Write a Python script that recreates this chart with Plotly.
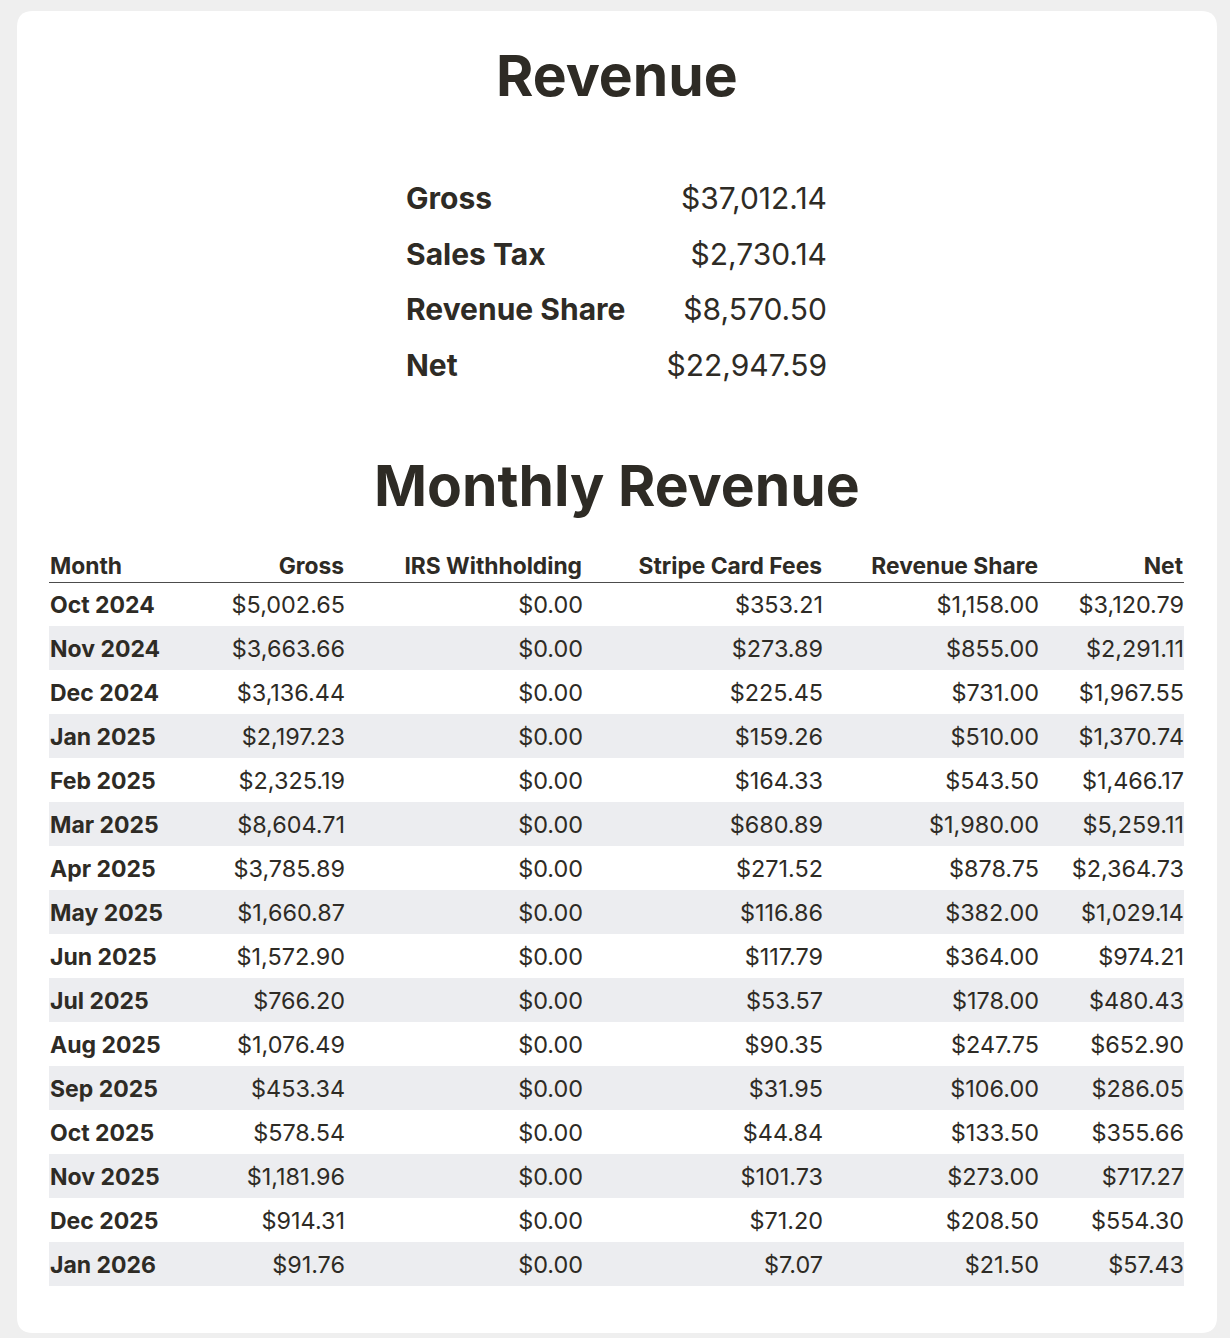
import plotly.graph_objects as go

# ---------------- data ----------------
summary_labels = ["Gross", "Sales Tax", "Revenue Share", "Net"]
summary_values = [37012.14, 2730.14, 8570.50, 22947.59]

columns = ["Month", "Gross", "IRS Withholding", "Stripe Card Fees", "Revenue Share", "Net"]
months = ["Oct 2024", "Nov 2024", "Dec 2024", "Jan 2025", "Feb 2025", "Mar 2025",
          "Apr 2025", "May 2025", "Jun 2025", "Jul 2025", "Aug 2025", "Sep 2025",
          "Oct 2025", "Nov 2025", "Dec 2025", "Jan 2026"]
gross = [5002.65, 3663.66, 3136.44, 2197.23, 2325.19, 8604.71, 3785.89, 1660.87,
         1572.90, 766.20, 1076.49, 453.34, 578.54, 1181.96, 914.31, 91.76]
irs_withholding = [0.00, 0.00, 0.00, 0.00, 0.00, 0.00, 0.00, 0.00,
                   0.00, 0.00, 0.00, 0.00, 0.00, 0.00, 0.00, 0.00]
stripe_fees = [353.21, 273.89, 225.45, 159.26, 164.33, 680.89, 271.52, 116.86,
               117.79, 53.57, 90.35, 31.95, 44.84, 101.73, 71.20, 7.07]
revenue_share = [1158.00, 855.00, 731.00, 510.00, 543.50, 1980.00, 878.75, 382.00,
                 364.00, 178.00, 247.75, 106.00, 133.50, 273.00, 208.50, 21.50]
net = [3120.79, 2291.11, 1967.55, 1370.74, 1466.17, 5259.11, 2364.73, 1029.14,
       974.21, 480.43, 652.90, 286.05, 355.66, 717.27, 554.30, 57.43]

# ---------------- style / layout ----------------
W, H = 1230, 1338
BG = "#efefef"
CARD = "#ffffff"
INK = "#2e2b25"
STRIPE = "#ecedf0"
FONT = "Inter"

def money(v):
    return "${:,.2f}".format(v)

def px_x(p):
    return p / W

def px_y(p):
    return 1 - p / H

fig = go.Figure()

# table geometry (pixels, layout only)
TABLE_LEFT, TABLE_RIGHT = 49, 1184
MONTH_X = 50
COL_RIGHT = [345, 583, 823, 1039, 1184]
BODY_TOP, ROW_H = 582, 44
TEXT_SHIFT = 3
n_rows = len(months)
body_bottom = BODY_TOP + ROW_H * n_rows
rows_idx = list(range(n_rows))

# alternating row shading (axis y)
shaded = [i for i in rows_idx if i % 2 == 1]
fig.add_trace(go.Bar(
    orientation="h", y=shaded, x=[TABLE_RIGHT - TABLE_LEFT] * len(shaded),
    base=TABLE_LEFT, width=1, marker=dict(color=STRIPE, line=dict(width=0)),
    hoverinfo="skip", showlegend=False, xaxis="x", yaxis="y"))

# body text (axis y4, same rows, nudged for optical centring)
fig.add_trace(go.Scatter(
    x=[MONTH_X] * n_rows, y=rows_idx, text=months, mode="text",
    textposition="middle right",
    textfont=dict(family=FONT, size=23, color=INK, weight=700),
    hoverinfo="skip", showlegend=False, cliponaxis=False, xaxis="x", yaxis="y4"))

for series, xr in zip([gross, irs_withholding, stripe_fees, revenue_share, net], COL_RIGHT):
    fig.add_trace(go.Scatter(
        x=[xr] * n_rows, y=rows_idx, text=[money(v) for v in series], mode="text",
        textposition="middle left",
        textfont=dict(family=FONT, size=23.4, color=INK, weight=400),
        hoverinfo="skip", showlegend=False, cliponaxis=False, xaxis="x", yaxis="y4"))

# header (axis y3, single row)
HEADER_TOP, HEADER_BOTTOM = 551, 585
fig.add_trace(go.Scatter(
    x=[MONTH_X], y=[0], text=[columns[0]], mode="text",
    textposition="middle right",
    textfont=dict(family=FONT, size=22.8, color=INK, weight=700),
    hoverinfo="skip", showlegend=False, cliponaxis=False, xaxis="x", yaxis="y3"))
fig.add_trace(go.Scatter(
    x=[c - 1 for c in COL_RIGHT], y=[0] * len(COL_RIGHT), text=columns[1:],
    mode="text", textposition="middle left",
    textfont=dict(family=FONT, size=22.8, color=INK, weight=700),
    hoverinfo="skip", showlegend=False, cliponaxis=False, xaxis="x", yaxis="y3"))

# summary block (axis y2)
SUM_LABEL_X, SUM_VALUE_X = 406, 827
SUM_TOP, SUM_ROW = 174, 55.5
ns = len(summary_labels)
fig.add_trace(go.Scatter(
    x=[SUM_LABEL_X] * ns, y=list(range(ns)), text=summary_labels, mode="text",
    textposition="middle right",
    textfont=dict(family=FONT, size=30, color=INK, weight=700),
    hoverinfo="skip", showlegend=False, cliponaxis=False, xaxis="x", yaxis="y2"))
fig.add_trace(go.Scatter(
    x=[SUM_VALUE_X] * ns, y=list(range(ns)), text=[money(v) for v in summary_values],
    mode="text", textposition="middle left",
    textfont=dict(family=FONT, size=30, color=INK, weight=400),
    hoverinfo="skip", showlegend=False, cliponaxis=False, xaxis="x", yaxis="y2"))

hidden = dict(visible=False, showgrid=False, zeroline=False, fixedrange=True)

# card with rounded corners
x0, y0, x1, y1, r = 17, 11, 1217, 1333, 16
card_path = (
    f"M {px_x(x0 + r)},{px_y(y0)} L {px_x(x1 - r)},{px_y(y0)} "
    f"Q {px_x(x1)},{px_y(y0)} {px_x(x1)},{px_y(y0 + r)} "
    f"L {px_x(x1)},{px_y(y1 - r)} Q {px_x(x1)},{px_y(y1)} {px_x(x1 - r)},{px_y(y1)} "
    f"L {px_x(x0 + r)},{px_y(y1)} Q {px_x(x0)},{px_y(y1)} {px_x(x0)},{px_y(y1 - r)} "
    f"L {px_x(x0)},{px_y(y0 + r)} Q {px_x(x0)},{px_y(y0)} {px_x(x0 + r)},{px_y(y0)} Z"
)

fig.update_layout(
    width=W, height=H, autosize=False,
    margin=dict(l=0, r=0, t=0, b=0, pad=0),
    paper_bgcolor=BG, plot_bgcolor="rgba(0,0,0,0)",
    showlegend=False, hovermode=False,
    xaxis=dict(range=[0, W], domain=[0, 1], **hidden),
    yaxis=dict(range=[n_rows - 0.5, -0.5], domain=[px_y(body_bottom), px_y(BODY_TOP)],
               anchor="x", **hidden),
    yaxis4=dict(range=[n_rows - 0.5, -0.5],
                domain=[px_y(body_bottom + TEXT_SHIFT), px_y(BODY_TOP + TEXT_SHIFT)],
                anchor="x", **hidden),
    yaxis3=dict(range=[0.5, -0.5], domain=[px_y(HEADER_BOTTOM), px_y(HEADER_TOP)],
                anchor="x", **hidden),
    yaxis2=dict(range=[ns - 0.5, -0.5], domain=[px_y(SUM_TOP + SUM_ROW * ns), px_y(SUM_TOP)],
                anchor="x", **hidden),
    shapes=[
        dict(type="path", path=card_path, xref="paper", yref="paper",
             fillcolor=CARD, line=dict(width=0), layer="below"),
        dict(type="line", xref="x", yref="y", x0=TABLE_LEFT, x1=TABLE_RIGHT,
             y0=-0.5, y1=-0.5, line=dict(color="#111111", width=1.5), layer="above"),
    ],
    annotations=[
        dict(text="<b>Revenue</b>", x=px_x(617), y=px_y(76), xref="paper", yref="paper",
             showarrow=False, xanchor="center", yanchor="middle",
             font=dict(family=FONT, size=57, color=INK)),
        dict(text="<b>Monthly Revenue</b>", x=px_x(617), y=px_y(486), xref="paper", yref="paper",
             showarrow=False, xanchor="center", yanchor="middle",
             font=dict(family=FONT, size=57, color=INK)),
    ],
)

fig.write_html(
    "out.html",
    config={"displayModeBar": False, "staticPlot": True},
    post_script="document.body.style.margin='0';document.body.style.background='#efefef';",
)
